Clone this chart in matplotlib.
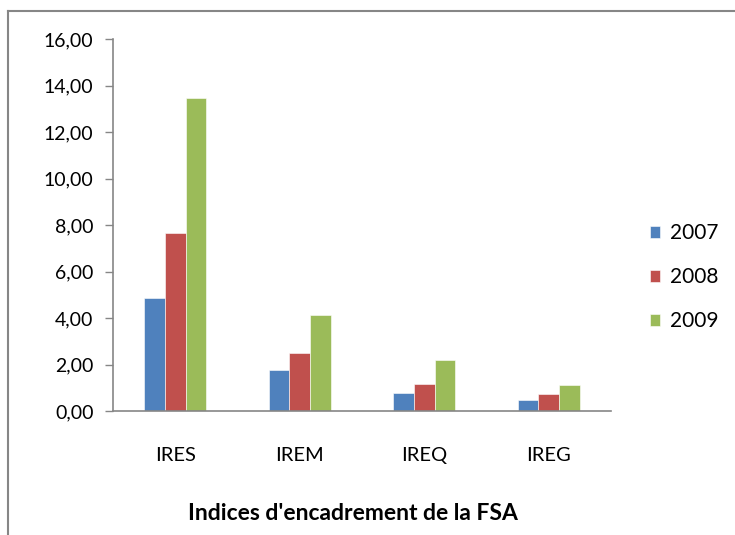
import matplotlib.pyplot as plt
import numpy as np
from matplotlib.lines import Line2D
from matplotlib.ticker import FuncFormatter

categories = ["IRES", "IREM", "IREQ", "IREG"]
years = ["2007", "2008", "2009"]
values_2007 = [4.86, 1.75, 0.79, 0.47]
values_2008 = [7.67, 2.51, 1.15, 0.73]
values_2009 = [13.46, 4.14, 2.21, 1.13]
y_ticks = [0, 2, 4, 6, 8, 10, 12, 14, 16]

colors = ["#4F81BD", "#C0504D", "#9BBB59"]
grey = "#868686"

plt.rcParams["font.family"] = ["Lato", "DejaVu Sans"]

fig = plt.figure(figsize=(7.35, 5.35), dpi=100)
ax = fig.add_axes([113 / 735, 1 - 411 / 535, 498 / 735, 372 / 535])

x = np.arange(len(categories))
width = 0.167
for i, (vals, year) in enumerate(zip([values_2007, values_2008, values_2009], years)):
    ax.bar(x + (i - 1) * width, vals, width, color=colors[i], label=year,
           edgecolor="white", linewidth=0.4)

ax.set_xlim(-0.5, len(categories) - 0.5)
ax.set_ylim(0, 16)
ax.set_yticks(y_ticks)
ax.yaxis.set_major_formatter(FuncFormatter(lambda v, p: f"{v:.2f}".replace(".", ",")))
ax.set_xticks(x)
ax.set_xticklabels(categories)

for side in ["top", "right"]:
    ax.spines[side].set_visible(False)
for side in ["left", "bottom"]:
    ax.spines[side].set_color(grey)
    ax.spines[side].set_linewidth(1.2)

ax.tick_params(axis="y", colors=grey, length=6, width=1, labelcolor="black",
               labelsize=14, pad=8)
ax.tick_params(axis="x", length=0, labelsize=14.5, pad=26)

ax.legend(loc="center left", bbox_to_anchor=(650 / 735, 1 - 277 / 535),
          bbox_transform=fig.transFigure, frameon=False, fontsize=15,
          handlelength=0.5, handleheight=0.5, handletextpad=0.45,
          labelspacing=1.15, borderaxespad=0, borderpad=0)

fig.text(353 / 735, 1 - 513 / 535, "Indices d'encadrement de la FSA",
         ha="center", va="center", fontsize=16.5, fontweight="bold")

# border of the chart area (top and left only visible)
fig.add_artist(Line2D([8 / 735, 8 / 735], [0, 1 - 11 / 535], transform=fig.transFigure,
                      color=grey, linewidth=1.5))
fig.add_artist(Line2D([8 / 735, 1], [1 - 11 / 535, 1 - 11 / 535], transform=fig.transFigure,
                      color=grey, linewidth=1.5))

fig.savefig("out.png", dpi=100)
